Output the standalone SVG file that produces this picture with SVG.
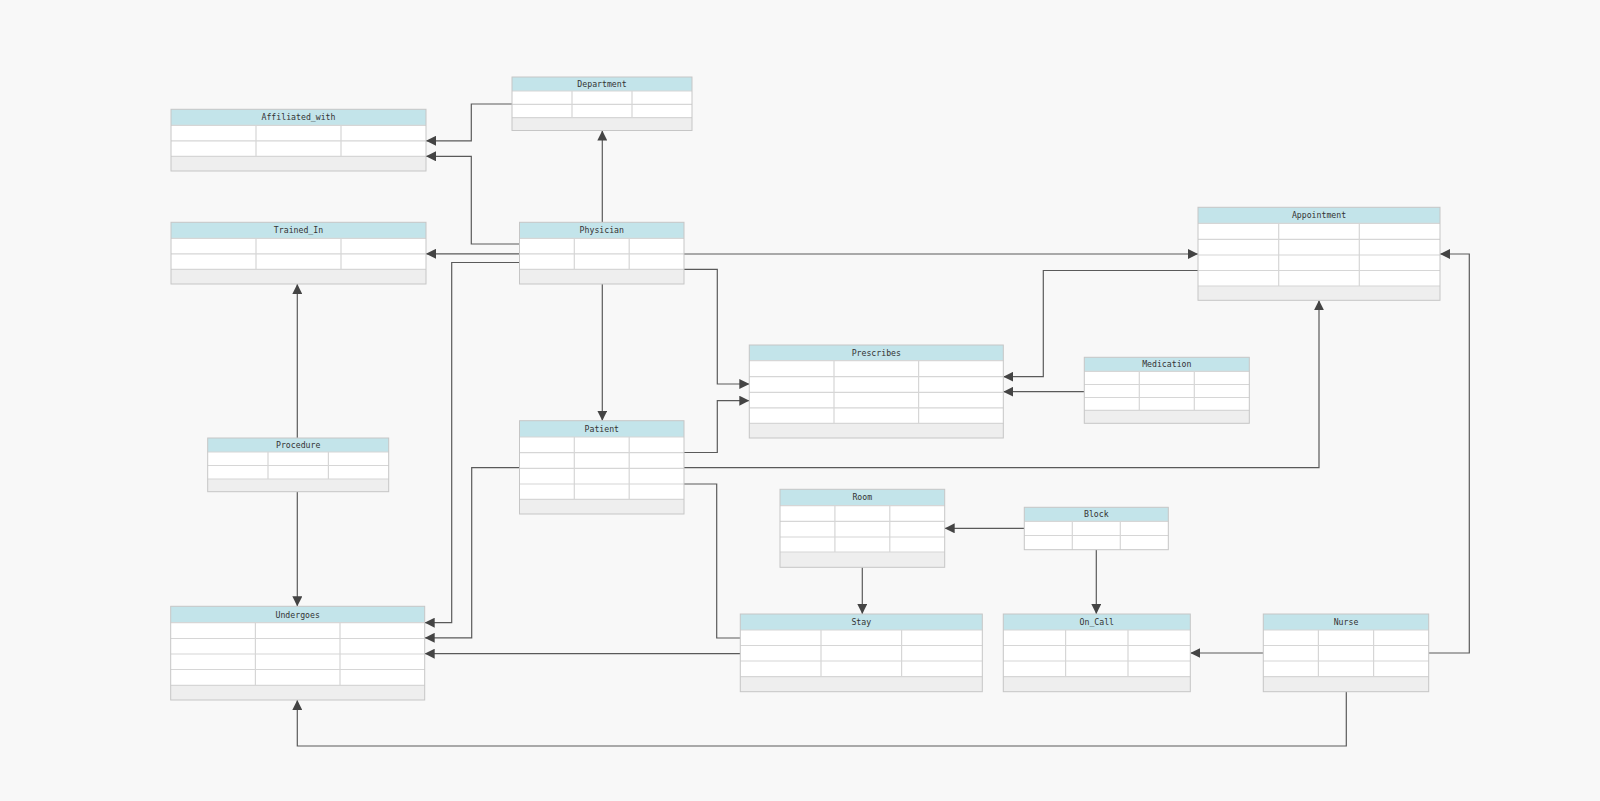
<svg xmlns="http://www.w3.org/2000/svg" width="1600" height="801" viewBox="0 0 1600 801">
<style>
.hdr{fill:#c3e4ea;stroke:none}
.bd{fill:#ffffff;stroke:none}
.ft{fill:#eeeeee;stroke:none}
.grid{fill:none;stroke:#d6d6d6;stroke-width:1.2}
.frm{fill:none;stroke:#c6c6c6;stroke-width:1}
.lbl{font-family:"DejaVu Sans Mono","Liberation Mono",monospace;font-size:8.2px;fill:#333333;text-anchor:middle;dominant-baseline:central}
.edge{fill:none;stroke:#5a5a5a;stroke-width:1.2}
.arr{marker-end:url(#ah)}
</style>
<defs>
<marker id="ah" markerUnits="userSpaceOnUse" markerWidth="10" markerHeight="10" refX="10" refY="5" orient="auto">
<path d="M0,0 L10,5 L0,10 z" fill="#444444"/>
</marker>
</defs>
<rect x="0" y="0" width="1600" height="801" fill="#f8f8f8"/>

<g id="connectors">
<path class="edge arr" d="M512,104 H471.3 V140.8 H426"/>
<path class="edge arr" d="M519.5,244 H471.3 V156.3 H426"/>
<path class="edge arr" d="M519.5,253.8 H426"/>
<path class="edge arr" d="M519.5,262.5 H451.7 V622.7 H424.7"/>
<path class="edge arr" d="M602.3,222.3 V130.5"/>
<path class="edge arr" d="M684,254 H1198"/>
<path class="edge arr" d="M684,269.3 H717.3 V384 H749.3"/>
<path class="edge arr" d="M602.3,284 V420.7"/>
<path class="edge arr" d="M1198,270.5 H1043.3 V376.7 H1003.3"/>
<path class="edge arr" d="M1084.3,391.7 H1003.3"/>
<path class="edge arr" d="M684,452.5 H717.3 V400.7 H749.3"/>
<path class="edge arr" d="M684,467.7 H1319 V300.3"/>
<path class="edge arr" d="M519.5,467.7 H471.7 V637.8 H424.7"/>
<path class="edge" d="M684,484 H716.7 V638 H740.3"/>
<path class="edge arr" d="M740.3,653.7 H424.7"/>
<path class="edge arr" d="M862.3,567.3 V614"/>
<path class="edge arr" d="M1024.3,528.3 H944.7"/>
<path class="edge arr" d="M1096.3,549.7 V614"/>
<path class="edge arr" d="M1263.3,653 H1190.3"/>
<path class="edge arr" d="M1428.7,653 H1469.3 V254 H1440"/>
<path class="edge arr" d="M1346.3,691.7 V746 H297.3 V700"/>
<path class="edge arr" d="M297.3,438 V284"/>
<path class="edge arr" d="M297.3,491.7 V606.3"/>
</g>

<g id="Department">
<rect class="hdr" x="512" y="77" width="180" height="14"/>
<rect class="bd" x="512" y="91" width="180" height="26.6"/>
<rect class="ft" x="512" y="117.6" width="180" height="12.9"/>
<path class="grid" d="M512,91 H692 M512,104.3 H692 M512,117.6 H692 M572,91 V117.6 M632,91 V117.6"/>
<rect class="frm" x="512" y="77" width="180" height="53.5"/>
<text class="lbl" x="602" y="84">Department</text>
</g>

<g id="Affiliated_with">
<rect class="hdr" x="171" y="109.3" width="255" height="16"/>
<rect class="bd" x="171" y="125.3" width="255" height="31"/>
<rect class="ft" x="171" y="156.3" width="255" height="14.7"/>
<path class="grid" d="M171,125.3 H426 M171,140.8 H426 M171,156.3 H426 M256,125.3 V156.3 M341,125.3 V156.3"/>
<rect class="frm" x="171" y="109.3" width="255" height="61.7"/>
<text class="lbl" x="298.5" y="117.3">Affiliated_with</text>
</g>

<g id="Trained_In">
<rect class="hdr" x="171" y="222.3" width="255" height="16"/>
<rect class="bd" x="171" y="238.3" width="255" height="31"/>
<rect class="ft" x="171" y="269.3" width="255" height="14.7"/>
<path class="grid" d="M171,238.3 H426 M171,253.8 H426 M171,269.3 H426 M256,238.3 V269.3 M341,238.3 V269.3"/>
<rect class="frm" x="171" y="222.3" width="255" height="61.7"/>
<text class="lbl" x="298.5" y="230.3">Trained_In</text>
</g>

<g id="Physician">
<rect class="hdr" x="519.5" y="222.3" width="164.5" height="16"/>
<rect class="bd" x="519.5" y="238.3" width="164.5" height="31"/>
<rect class="ft" x="519.5" y="269.3" width="164.5" height="14.7"/>
<path class="grid" d="M519.5,238.3 H684 M519.5,253.8 H684 M519.5,269.3 H684 M574.3,238.3 V269.3 M629.2,238.3 V269.3"/>
<rect class="frm" x="519.5" y="222.3" width="164.5" height="61.7"/>
<text class="lbl" x="601.8" y="230.3">Physician</text>
</g>

<g id="Appointment">
<rect class="hdr" x="1198" y="207.3" width="242" height="16"/>
<rect class="bd" x="1198" y="223.3" width="242" height="62.7"/>
<rect class="ft" x="1198" y="286" width="242" height="14.3"/>
<path class="grid" d="M1198,223.3 H1440 M1198,239.3 H1440 M1198,255 H1440 M1198,270.5 H1440 M1198,286 H1440 M1278.7,223.3 V286 M1359.3,223.3 V286"/>
<rect class="frm" x="1198" y="207.3" width="242" height="93"/>
<text class="lbl" x="1319" y="215.3">Appointment</text>
</g>

<g id="Prescribes">
<rect class="hdr" x="749.3" y="345" width="254" height="15.7"/>
<rect class="bd" x="749.3" y="360.7" width="254" height="62.6"/>
<rect class="ft" x="749.3" y="423.3" width="254" height="14.7"/>
<path class="grid" d="M749.3,360.7 H1003.3 M749.3,376.7 H1003.3 M749.3,392.3 H1003.3 M749.3,407.8 H1003.3 M749.3,423.3 H1003.3 M834,360.7 V423.3 M918.6,360.7 V423.3"/>
<rect class="frm" x="749.3" y="345" width="254" height="93"/>
<text class="lbl" x="876.3" y="352.9">Prescribes</text>
</g>

<g id="Medication">
<rect class="hdr" x="1084.3" y="357.3" width="165" height="14"/>
<rect class="bd" x="1084.3" y="371.3" width="165" height="39"/>
<rect class="ft" x="1084.3" y="410.3" width="165" height="13"/>
<path class="grid" d="M1084.3,371.3 H1249.3 M1084.3,384.5 H1249.3 M1084.3,397.5 H1249.3 M1084.3,410.3 H1249.3 M1139.3,371.3 V410.3 M1194.3,371.3 V410.3"/>
<rect class="frm" x="1084.3" y="357.3" width="165" height="66"/>
<text class="lbl" x="1166.8" y="364.3">Medication</text>
</g>

<g id="Patient">
<rect class="hdr" x="519.5" y="420.7" width="164.5" height="16.3"/>
<rect class="bd" x="519.5" y="437" width="164.5" height="62.4"/>
<rect class="ft" x="519.5" y="499.4" width="164.5" height="14.6"/>
<path class="grid" d="M519.5,437 H684 M519.5,452.7 H684 M519.5,468.3 H684 M519.5,484 H684 M519.5,499.4 H684 M574.3,437 V499.4 M629.2,437 V499.4"/>
<rect class="frm" x="519.5" y="420.7" width="164.5" height="93.3"/>
<text class="lbl" x="601.8" y="428.8">Patient</text>
</g>

<g id="Procedure">
<rect class="hdr" x="207.7" y="438" width="181" height="14"/>
<rect class="bd" x="207.7" y="452" width="181" height="27"/>
<rect class="ft" x="207.7" y="479" width="181" height="12.7"/>
<path class="grid" d="M207.7,452 H388.7 M207.7,465.5 H388.7 M207.7,479 H388.7 M268,452 V479 M328.4,452 V479"/>
<rect class="frm" x="207.7" y="438" width="181" height="53.7"/>
<text class="lbl" x="298.2" y="445">Procedure</text>
</g>

<g id="Undergoes">
<rect class="hdr" x="170.7" y="606.3" width="254" height="16.4"/>
<rect class="bd" x="170.7" y="622.7" width="254" height="62.6"/>
<rect class="ft" x="170.7" y="685.3" width="254" height="14.7"/>
<path class="grid" d="M170.7,622.7 H424.7 M170.7,638.5 H424.7 M170.7,654 H424.7 M170.7,669.5 H424.7 M170.7,685.3 H424.7 M255.4,622.7 V685.3 M340,622.7 V685.3"/>
<rect class="frm" x="170.7" y="606.3" width="254" height="93.7"/>
<text class="lbl" x="297.7" y="614.5">Undergoes</text>
</g>

<g id="Room">
<rect class="hdr" x="780" y="489.3" width="164.7" height="16.3"/>
<rect class="bd" x="780" y="505.6" width="164.7" height="46.4"/>
<rect class="ft" x="780" y="552" width="164.7" height="15.3"/>
<path class="grid" d="M780,505.6 H944.7 M780,521.3 H944.7 M780,537 H944.7 M780,552 H944.7 M834.9,505.6 V552 M889.8,505.6 V552"/>
<rect class="frm" x="780" y="489.3" width="164.7" height="78"/>
<text class="lbl" x="862.3" y="497.4">Room</text>
</g>

<g id="Block">
<rect class="hdr" x="1024.3" y="507.3" width="144" height="14"/>
<rect class="bd" x="1024.3" y="521.3" width="144" height="28.4"/>
<path class="grid" d="M1024.3,521.3 H1168.3 M1024.3,535.5 H1168.3 M1072.3,521.3 V549.7 M1120.3,521.3 V549.7"/>
<rect class="frm" x="1024.3" y="507.3" width="144" height="42.4"/>
<text class="lbl" x="1096.3" y="514.3">Block</text>
</g>

<g id="Stay">
<rect class="hdr" x="740.3" y="614" width="242" height="16"/>
<rect class="bd" x="740.3" y="630" width="242" height="46.7"/>
<rect class="ft" x="740.3" y="676.7" width="242" height="15"/>
<path class="grid" d="M740.3,630 H982.3 M740.3,645.5 H982.3 M740.3,661 H982.3 M740.3,676.7 H982.3 M821,630 V676.7 M901.6,630 V676.7"/>
<rect class="frm" x="740.3" y="614" width="242" height="77.7"/>
<text class="lbl" x="861.3" y="622">Stay</text>
</g>

<g id="On_Call">
<rect class="hdr" x="1003.3" y="614" width="187" height="16"/>
<rect class="bd" x="1003.3" y="630" width="187" height="46.7"/>
<rect class="ft" x="1003.3" y="676.7" width="187" height="15"/>
<path class="grid" d="M1003.3,630 H1190.3 M1003.3,645.5 H1190.3 M1003.3,661 H1190.3 M1003.3,676.7 H1190.3 M1065.6,630 V676.7 M1128,630 V676.7"/>
<rect class="frm" x="1003.3" y="614" width="187" height="77.7"/>
<text class="lbl" x="1096.8" y="622">On_Call</text>
</g>

<g id="Nurse">
<rect class="hdr" x="1263.3" y="614" width="165.4" height="16"/>
<rect class="bd" x="1263.3" y="630" width="165.4" height="46.7"/>
<rect class="ft" x="1263.3" y="676.7" width="165.4" height="15"/>
<path class="grid" d="M1263.3,630 H1428.7 M1263.3,645.5 H1428.7 M1263.3,661 H1428.7 M1263.3,676.7 H1428.7 M1318.4,630 V676.7 M1373.6,630 V676.7"/>
<rect class="frm" x="1263.3" y="614" width="165.4" height="77.7"/>
<text class="lbl" x="1346" y="622">Nurse</text>
</g>
</svg>
